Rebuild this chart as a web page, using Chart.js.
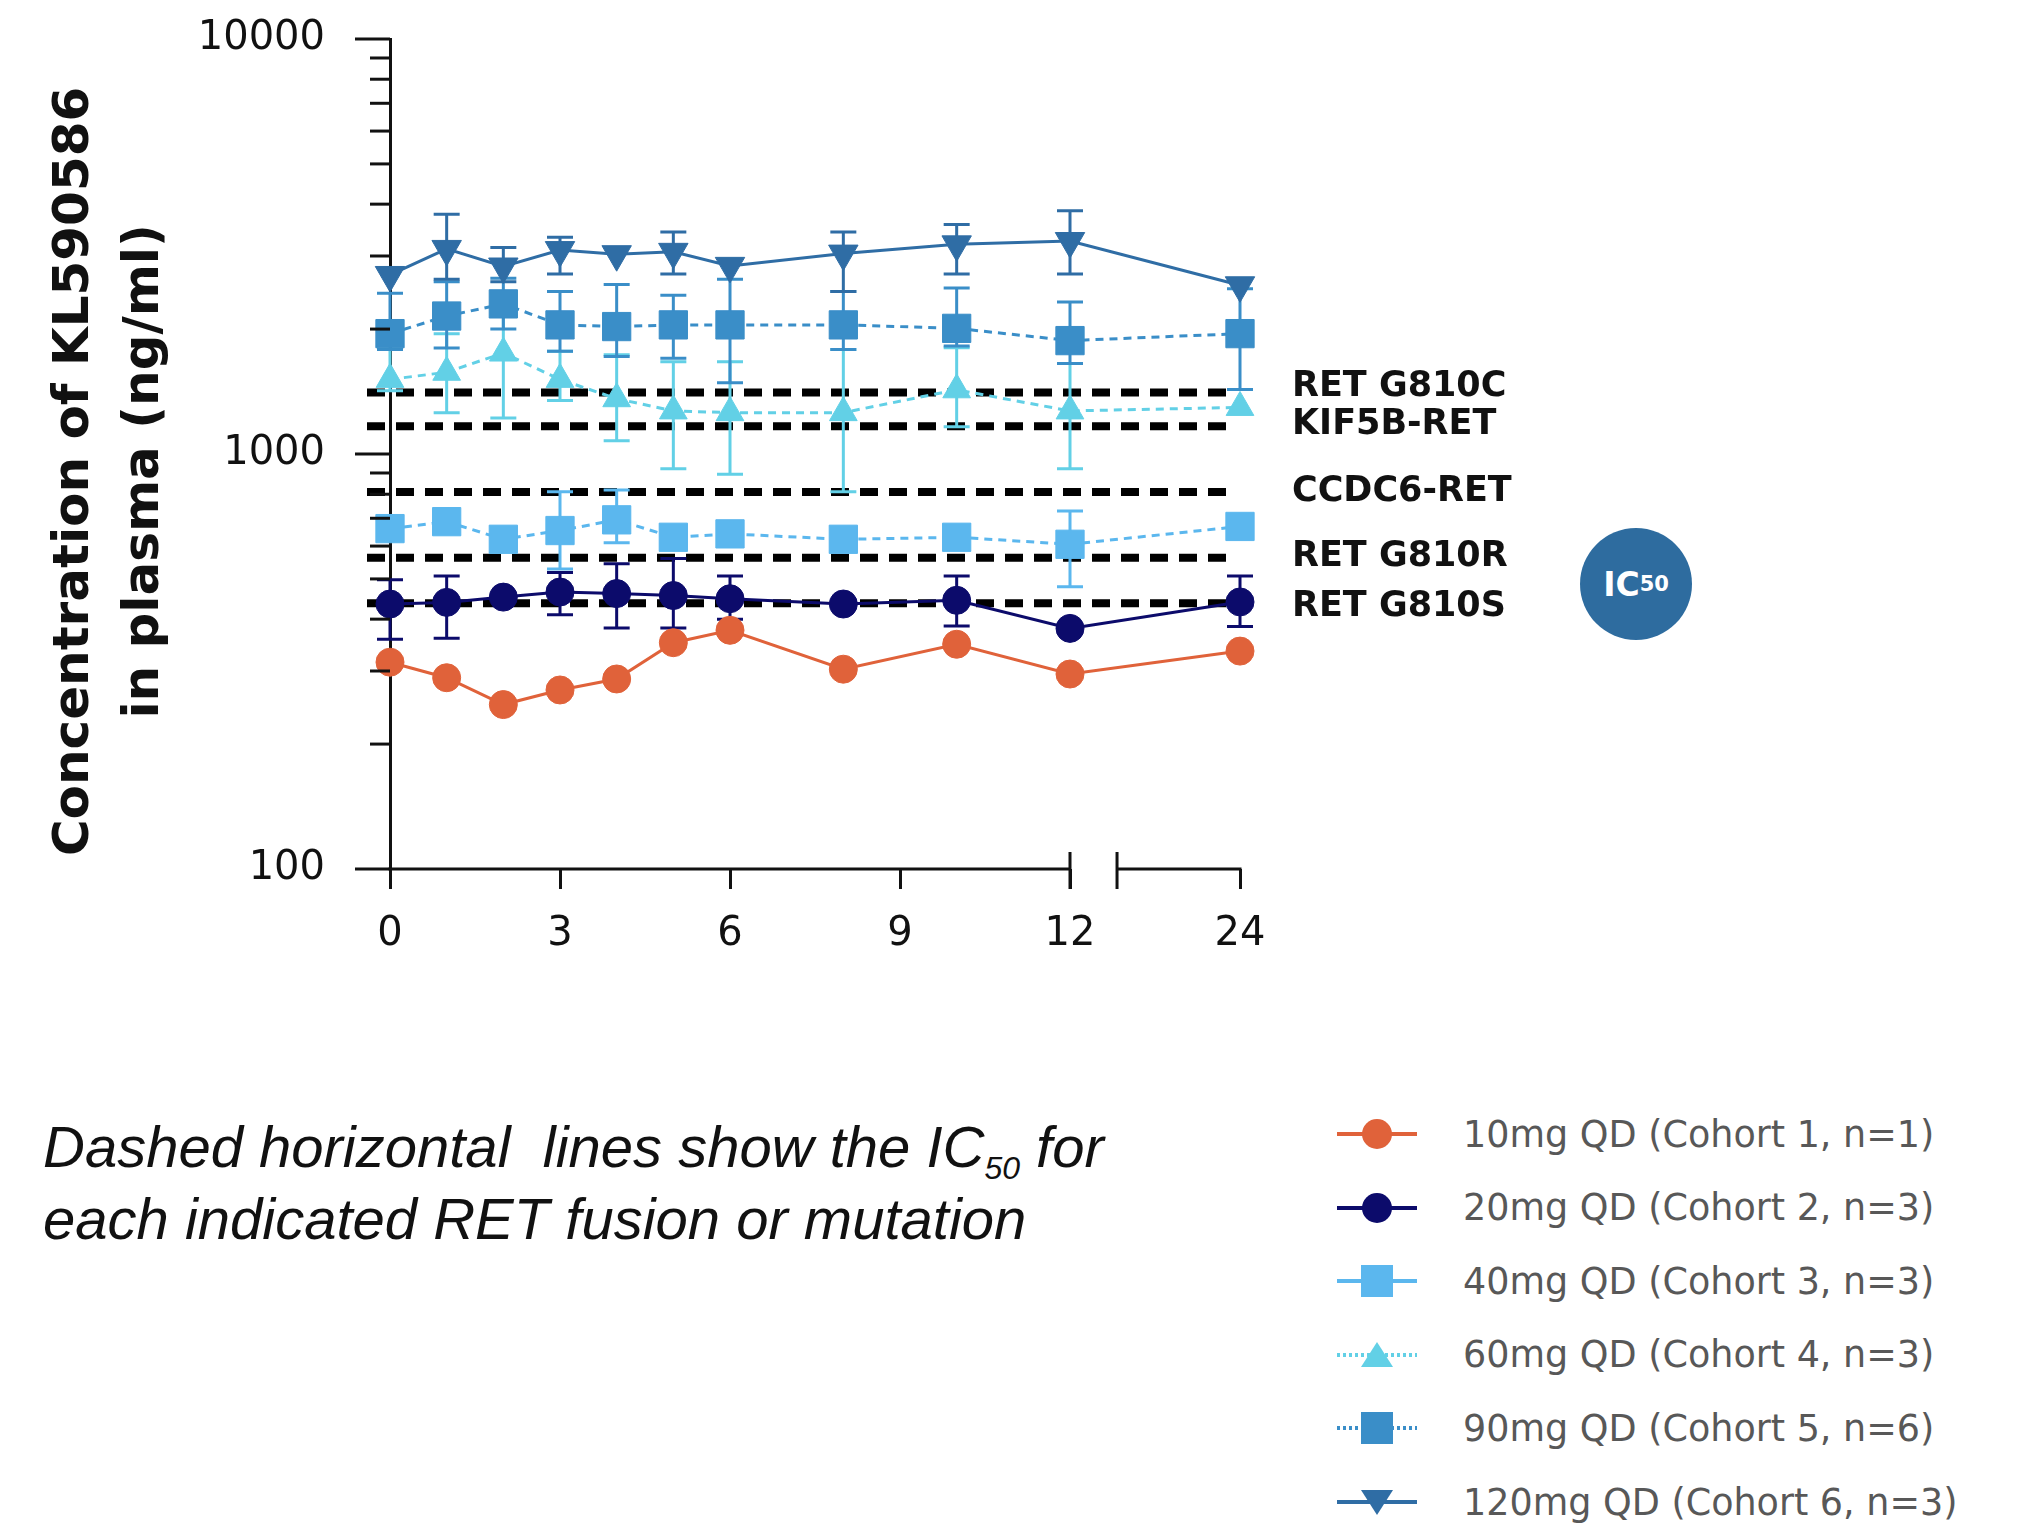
<!DOCTYPE html>
<html>
<head>
<meta charset="utf-8">
<script src="https://cdn.jsdelivr.net/npm/chart.js@4.4.1/dist/chart.umd.min.js"></script>
<style>
  html, body { margin:0; padding:0; background:#ffffff; }
  body { width:2025px; height:1524px; position:relative; overflow:hidden; }
  #chartBox { position:absolute; left:0; top:0; width:2025px; height:1010px; }
  #ic50 { position:absolute; left:1580px; top:528px; width:112px; height:112px; border-radius:50%;
          background:#2e6c9f; color:#ffffff; font-family:"DejaVu Sans", sans-serif; font-size:33px; font-weight:bold;
          display:flex; align-items:center; justify-content:center; }
  #ic50 sub { font-size:21px; vertical-align:-7px; }
  #caption { position:absolute; left:43px; top:1111px; font-family:"Liberation Sans", Arial, sans-serif;
             font-style:italic; font-size:58px; line-height:72px; color:#111111; white-space:pre; }
  #caption sub { font-size:32px; vertical-align:baseline; position:relative; top:12px; line-height:0; }
  .row { position:absolute; left:1330px; height:60px; display:flex; align-items:center; }
  .row svg { width:95px; height:60px; flex:none; }
  .row span { margin-left:38px; font-family:"DejaVu Sans", sans-serif; font-size:36.5px; color:#585858; white-space:nowrap; }
</style>
</head>
<body>
<div id="chartBox"><canvas id="c" width="2025" height="1010"></canvas></div>
<div id="ic50">IC<sub>50</sub></div>
<div id="caption">Dashed horizontal  lines show the IC<sub>50</sub> for
each indicated RET fusion or mutation</div>
<div id="legend"></div>
<script>
// ---------------- data ----------------
const hours = [0, 1, 2, 3, 4, 5, 6, 8, 10, 12, 24];
const xTickLabels = ['0', '3', '6', '9', '12', '24'];
const yTickLabels = ['100', '1000', '10000'];

const seriesNames = ['10mg QD (Cohort 1, n=1)', '20mg QD (Cohort 2, n=3)', '40mg QD (Cohort 3, n=3)',
                     '60mg QD (Cohort 4, n=3)', '90mg QD (Cohort 5, n=6)', '120mg QD (Cohort 6, n=3)'];

const mean10  = [315, 289, 249, 270, 287, 351, 376, 303, 348, 295, 335];

const mean20  = [435, 439, 452, 465, 461, 456, 448, 435, 444, 380, 440];
const low20   = [358, 360, null, 410, 381, 381, 400, null, 385, null, 384];
const high20  = [498, 508, null, 518, 544, 560, 508, null, 508, null, 508];

const mean40  = [661, 687, 623, 654, 694, 630, 642, 623, 630, 606, 669];
const low40   = [null, null, null, 528, 611, null, null, null, null, 479, null];
const high40  = [null, null, null, 811, 819, null, null, null, null, 729, null];

const mean60  = [1513, 1574, 1751, 1513, 1359, 1270, 1258, 1258, 1428, 1270, 1295];
const low60   = [1420, 1258, 1221, 1346, 1076, 921, 894, 811, 1163, 921, null];
const high60  = [1790, 1950, 2250, 1769, 1734, 1669, 1669, 1786, 1803, 1652, null];

const mean90  = [1950, 2150, 2300, 2047, 2028, 2047, 2047, 2047, 2008, 1876, 1950];
const low90   = [1786, 1800, 2000, 1769, 1717, 1700, 1484, 1786, 1820, 1652, 1430];
const high90  = [2440, 2600, 2650, 2464, 2560, 2413, 2637, 2464, 2512, 2324, 2500];

const mean120 = [2700, 3120, 2830, 3100, 3030, 3070, 2840, 3040, 3200, 3260, 2550];
const low120  = [null, 2637, 2600, 2716, null, 2716, null, 2464, 2716, 2716, null];
const high120 = [null, 3782, 3143, 3331, null, 3429, null, 3429, 3575, 3855, null];

const ic50Names  = ['RET G810C', 'KIF5B-RET', 'CCDC6-RET', 'RET G810R', 'RET G810S'];
const ic50Values = [1406, 1166, 810, 562, 437];

// ---------------- styling ----------------
const colors  = ['#E0623A', '#0C0B6B', '#5BB7EE', '#62D0E6', '#3A8EC8', '#2F6DA5'];
const styles  = ['circle', 'circle', 'rect', 'triangle', 'rect', 'triangle'];
const radii   = [14, 14, 20, 16, 20, 17];
const rots    = [0, 0, 0, 0, 0, 180];
const dashes  = [[], [], [8, 6], [8, 6], [8, 6], []];
const legendDots = [false, false, false, true, true, false];
const labelOffsets = [-6, -1, 0, -1, 4];
const BREAK_GAP = 0.83; // axis units between break marks

// broken time axis: 0-12 h linear, 12-24 h compressed into the last slot
const axisPos = h => (h <= 12 ? h : 12 + (h - 12) / 4);

const means = [mean10, mean20, mean40, mean60, mean90, mean120];
const lows  = [null, low20, low40, low60, low90, low120];
const highs = [null, high20, high40, high60, high90, high120];

const datasets = means.map((m, k) => ({
  label: seriesNames[k],
  data: hours.map((h, i) => ({ x: axisPos(h), y: m[i] })),
  errLow: lows[k], errHigh: highs[k],
  borderColor: colors[k], backgroundColor: colors[k],
  pointBackgroundColor: colors[k], pointBorderColor: colors[k], pointBorderWidth: 1,
  pointStyle: styles[k], pointRadius: radii[k], pointRotation: rots[k],
  borderWidth: 3, borderDash: dashes[k], tension: 0, clip: false,
  order: 5 - k
}));

const decorPlugin = {
  id: 'decor',
  beforeDatasetsDraw(chart) {
    const { ctx, chartArea, scales: { x, y } } = chart;
    // IC50 reference lines
    ctx.save();
    ctx.strokeStyle = '#000000'; ctx.lineWidth = 8; ctx.setLineDash([18, 11]);
    ic50Values.forEach(v => {
      const py = y.getPixelForValue(v);
      ctx.beginPath(); ctx.moveTo(chartArea.left - 23, py); ctx.lineTo(chartArea.right - 7, py); ctx.stroke();
    });
    ctx.restore();
    // error bars
    chart.data.datasets.forEach(ds => {
      if (!ds.errLow) return;
      ctx.save();
      ctx.strokeStyle = ds.borderColor; ctx.lineWidth = 3; ctx.setLineDash([]);
      ds.data.forEach((p, i) => {
        const lo = ds.errLow[i], hi = ds.errHigh[i];
        if (lo == null || hi == null) return;
        const px = x.getPixelForValue(p.x), yl = y.getPixelForValue(lo), yh = y.getPixelForValue(hi);
        ctx.beginPath();
        ctx.moveTo(px, yl); ctx.lineTo(px, yh);
        ctx.moveTo(px - 13, yl); ctx.lineTo(px + 13, yl);
        ctx.moveTo(px - 13, yh); ctx.lineTo(px + 13, yh);
        ctx.stroke();
      });
      ctx.restore();
    });
  },
  afterDraw(chart) {
    const { ctx, chartArea, scales: { x, y } } = chart;
    ctx.save();
    ctx.strokeStyle = '#111111'; ctx.lineWidth = 3; ctx.setLineDash([]);
    // y tick marks (major longer than minor)
    y.ticks.forEach(t => {
      const py = y.getPixelForValue(t.value);
      const len = yTickLabels.includes(String(t.value)) ? 35 : 20;
      ctx.beginPath(); ctx.moveTo(chartArea.left, py); ctx.lineTo(chartArea.left - len, py); ctx.stroke();
    });
    // broken x axis
    const yb = chartArea.bottom;
    const x12 = x.getPixelForValue(axisPos(12));
    const xb = x.getPixelForValue(axisPos(12) + BREAK_GAP);
    const xe = x.getPixelForValue(axisPos(24));
    ctx.beginPath();
    ctx.moveTo(chartArea.left - 1.5, yb); ctx.lineTo(x12, yb);
    ctx.moveTo(xb, yb); ctx.lineTo(xe + 1.5, yb);
    ctx.moveTo(x12, yb - 17); ctx.lineTo(x12, yb + 20);
    ctx.moveTo(xb, yb - 17); ctx.lineTo(xb, yb + 20);
    ctx.stroke();
    // IC50 labels
    ctx.fillStyle = '#111111';
    ctx.font = 'bold 35px "DejaVu Sans"';
    ctx.textBaseline = 'middle'; ctx.textAlign = 'left';
    ic50Names.forEach((n, i) => {
      ctx.fillText(n, chartArea.right + 52, y.getPixelForValue(ic50Values[i]) + labelOffsets[i]);
    });
    ctx.restore();
  }
};

new Chart(document.getElementById('c'), {
  type: 'line',
  data: { datasets },
  options: {
    responsive: false, animation: false, devicePixelRatio: 1,
    layout: { padding: { top: 39, right: 785, bottom: 41, left: 0 } },
    plugins: { legend: { display: false }, tooltip: { enabled: false } },
    scales: {
      x: {
        type: 'linear', min: axisPos(0), max: axisPos(24),
        afterFit(s) { s.height = 100; s.paddingLeft = 0; s.paddingRight = 0; },
        afterBuildTicks(s) { s.ticks = xTickLabels.map(l => ({ value: axisPos(Number(l)) })); },
        border: { display: false },
        grid: { display: true, drawOnChartArea: false, drawTicks: true, tickLength: 20, color: '#111111', lineWidth: 3 },
        ticks: {
          padding: 22, color: '#111111', maxRotation: 0, autoSkip: false,
          font: { family: 'DejaVu Sans', size: 40, weight: 'normal' },
          callback: (v, i) => xTickLabels[i]
        }
      },
      y: {
        type: 'logarithmic', min: Number(yTickLabels[0]), max: Number(yTickLabels[yTickLabels.length - 1]),
        afterFit(s) { s.width = 390; s.paddingTop = 0; s.paddingBottom = 0; },
        afterBuildTicks(s) {
          const t = [];
          const majors = yTickLabels.map(Number);
          majors.forEach((m, k) => {
            t.push({ value: m });
            if (k < majors.length - 1) for (let j = 2; j <= 9; j++) t.push({ value: m * j });
          });
          s.ticks = t;
        },
        border: { display: true, color: '#111111', width: 3 },
        grid: { display: false },
        ticks: {
          padding: 57, color: '#111111', autoSkip: false,
          font: { family: 'DejaVu Sans', size: 40, weight: 'normal' },
          callback: v => (yTickLabels.includes(String(v)) ? String(v) : '')
        },
        title: {
          display: true, text: ['Concentration of KL590586  ', 'in plasma (ng/ml)  '],
          color: '#111111', padding: { top: 40, bottom: 0 },
          font: { family: 'DejaVu Sans', size: 50, weight: 'bold', lineHeight: 1.4 }
        }
      }
    }
  },
  plugins: [decorPlugin]
});

// ---------------- HTML legend ----------------
const legend = document.getElementById('legend');
const NS = 'http://www.w3.org/2000/svg';
seriesNames.forEach((name, k) => {
  const row = document.createElement('div');
  row.className = 'row';
  row.style.top = (1134 - 30 + k * 73.6) + 'px';
  const svg = document.createElementNS(NS, 'svg');
  svg.setAttribute('viewBox', '0 0 95 60');
  const line = document.createElementNS(NS, 'line');
  line.setAttribute('x1', 7); line.setAttribute('x2', 87); line.setAttribute('y1', 30); line.setAttribute('y2', 30);
  line.setAttribute('stroke', colors[k]); line.setAttribute('stroke-width', 4);
  if (legendDots[k]) line.setAttribute('stroke-dasharray', '3 3');
  svg.appendChild(line);
  let mk;
  if (styles[k] === 'circle') {
    mk = document.createElementNS(NS, 'circle');
    mk.setAttribute('cx', 47); mk.setAttribute('cy', 30); mk.setAttribute('r', 15);
  } else if (styles[k] === 'rect') {
    mk = document.createElementNS(NS, 'rect');
    mk.setAttribute('x', 31); mk.setAttribute('y', 14); mk.setAttribute('width', 32); mk.setAttribute('height', 32);
  } else {
    mk = document.createElementNS(NS, 'polygon');
    mk.setAttribute('points', rots[k] === 180 ? '31,18 63,18 47,43' : '31,42 63,42 47,17');
  }
  mk.setAttribute('fill', colors[k]);
  svg.appendChild(mk);
  row.appendChild(svg);
  const span = document.createElement('span');
  span.textContent = name;
  row.appendChild(span);
  legend.appendChild(row);
});
</script>
</body>
</html>
